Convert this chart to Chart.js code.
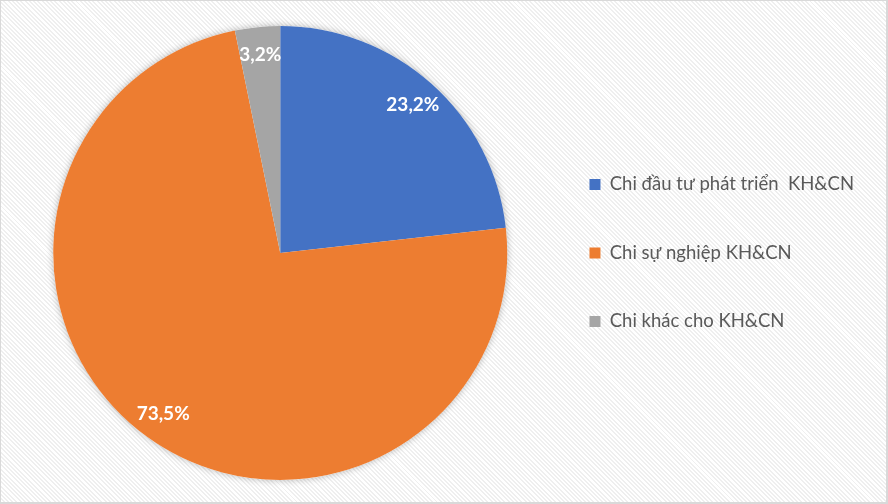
<!DOCTYPE html>
<html>
<head>
<meta charset="utf-8">
<script src="https://cdn.jsdelivr.net/npm/chart.js@4"></script>
<style>
  html, body { margin: 0; padding: 0; background: #fff; }
  #wrap {
    position: relative; width: 888px; height: 504px; box-sizing: border-box;
    border: 1px solid #d9d9d9; border-right-width: 2px; border-bottom-width: 2px;
    background: repeating-linear-gradient(45deg, #ffffff 0px, #ffffff 1.6px, #efefef 1.6px, #efefef 3px);
  }
  canvas { position: absolute; left: 0; top: 0; }
</style>
</head>
<body>
<div id="wrap"><canvas id="c" width="885" height="501"></canvas></div>
<script>
const categories = ["Chi đầu tư phát triển  KH&CN", "Chi sự nghiệp KH&CN", "Chi khác cho KH&CN"];
const values = [23.2, 73.5, 3.2];
const valueLabels = ["23,2%", "73,5%", "3,2%"];
const colors = ["#4472C4", "#ED7D31", "#A5A5A5"];

const pieShadow = {
  id: 'pieShadow',
  beforeDatasetsDraw(chart) {
    const arc = chart.getDatasetMeta(0).data[0];
    if (!arc) return;
    const ctx = chart.ctx;
    ctx.save();
    ctx.shadowColor = 'rgba(0,0,0,0.28)';
    ctx.shadowBlur = 7;
    ctx.beginPath();
    ctx.arc(arc.x, arc.y, arc.outerRadius, 0, Math.PI * 2);
    ctx.fillStyle = '#ffffff';
    ctx.fill();
    ctx.restore();
  }
};

const sliceLabels = {
  id: 'sliceLabels',
  afterDatasetsDraw(chart) {
    const ctx = chart.ctx;
    const meta = chart.getDatasetMeta(0);
    ctx.save();
    ctx.fillStyle = '#ffffff';
    ctx.font = 'bold 19px Lato, "Open Sans", sans-serif';
    ctx.textAlign = 'center';
    ctx.textBaseline = 'middle';
    meta.data.forEach((arc, i) => {
      const mid = (arc.startAngle + arc.endAngle) / 2;
      const r = arc.outerRadius - 28;
      ctx.fillText(valueLabels[i], arc.x + r * Math.cos(mid), arc.y + r * Math.sin(mid));
    });
    ctx.restore();
  }
};

new Chart(document.getElementById('c'), {
  type: 'pie',
  data: {
    labels: categories,
    datasets: [{
      data: values,
      backgroundColor: colors,
      borderWidth: 0
    }]
  },
  options: {
    responsive: false,
    animation: false,
    layout: { padding: { left: 20, right: 22, top: 25, bottom: 22 } },
    plugins: {
      tooltip: { enabled: false },
      legend: {
        position: 'right',
        labels: {
          boxWidth: 11,
          boxHeight: 11,
          padding: 50,
          color: '#595959',
          font: { family: 'Lato, "Open Sans", sans-serif', size: 18.5 }
        }
      }
    }
  },
  plugins: [pieShadow, sliceLabels]
});
</script>
</body>
</html>
